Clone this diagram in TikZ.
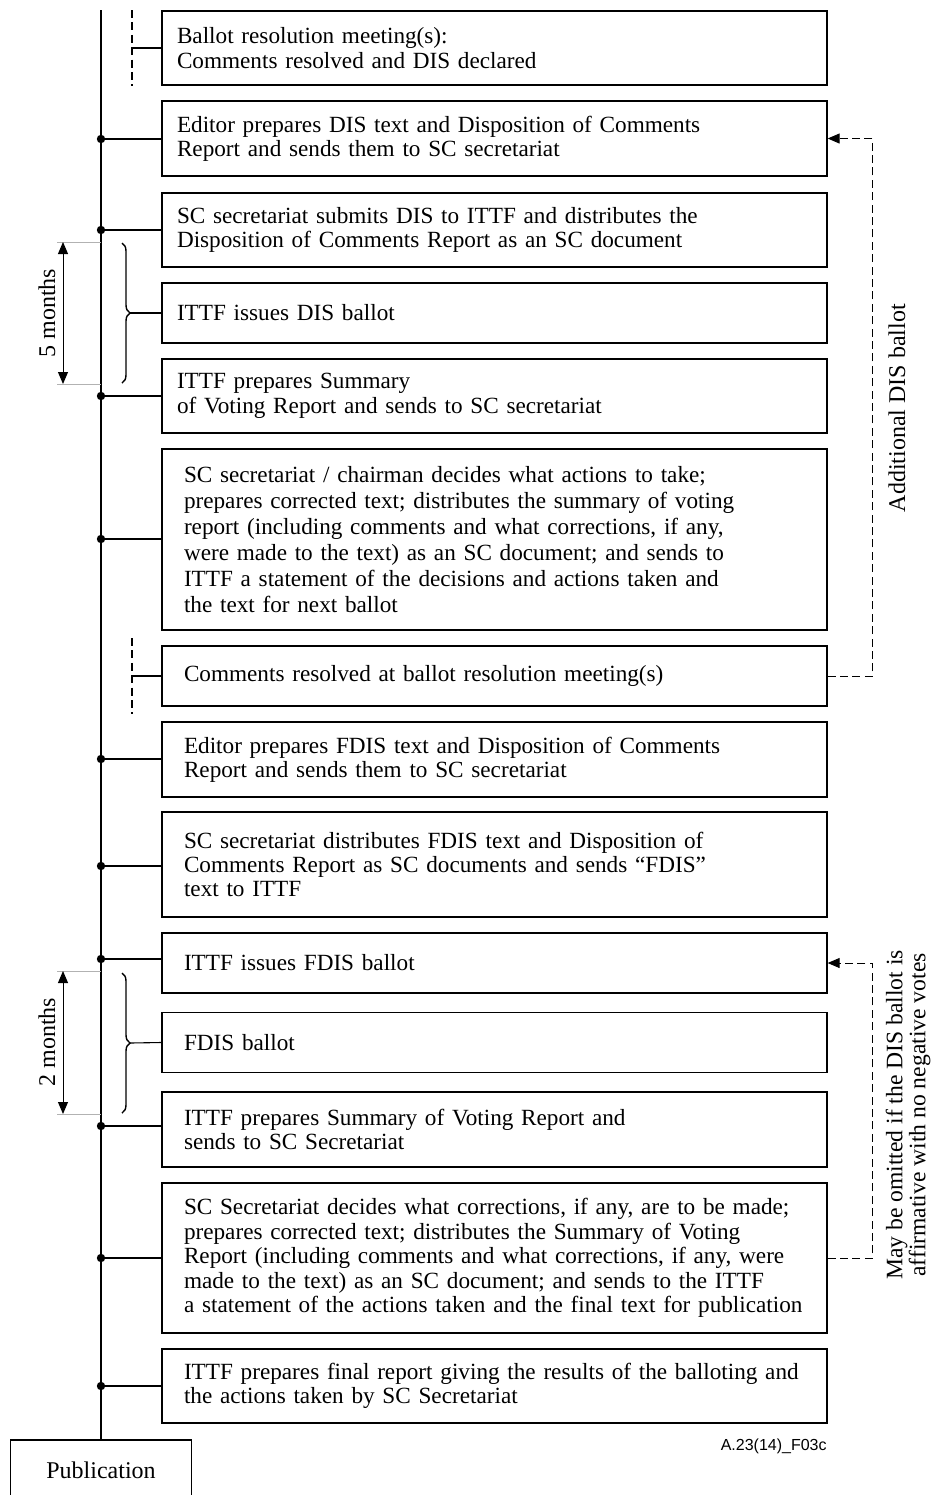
\documentclass[tikz,border=0pt]{standalone}
\usepackage{fontspec}
\setmainfont{Liberation Serif}
\newfontfamily\figfont{Liberation Sans}
\usetikzlibrary{arrows.meta, decorations.pathreplacing, positioning, calc}

\tikzset{
  stepbox/.style={draw, line width=0.65pt, rectangle, minimum width=332.5pt, inner xsep=7.5pt, text width=317.5pt, align=left, font=\fontsize{11.6}{12.2}\selectfont},
  widebox/.style={stepbox, inner xsep=11pt, text width=310.5pt},
  stem/.style={line width=0.55pt},
  joint/.style={circle, fill, inner sep=0pt, minimum size=4.2pt},
  dimline/.style={gray!60, line width=0.45pt},
  feedback/.style={dashed, dash pattern=on 4pt off 2.2pt, line width=0.5pt, -{Triangle[width=5pt,length=6pt]}},
}

\begin{document}
\begin{tikzpicture}[x=0.5pt, y=-0.5pt, font=\fontsize{12}{12.2}\selectfont]
        \useasboundingbox (0,0) rectangle (935,1495);
        % steps
        \node[stepbox, minimum height=37pt] (b1) at (494.5,48) {Ballot resolution meeting(s):\\Comments resolved and DIS declared};
        \node[stepbox, minimum height=37.5pt] (b2) at (494.5,138.5) {Editor prepares DIS text and Disposition of Comments\\Report and sends them to SC secretariat};
        \node[stepbox, minimum height=37pt] (b3) at (494.5,230) {SC secretariat submits DIS to ITTF and distributes the\\Disposition of Comments Report as an SC document};
        \node[stepbox, minimum height=30pt] (b4) at (494.5,313) {ITTF issues DIS ballot};
        \node[stepbox, minimum height=37pt] (b5) at (494.5,396) {ITTF prepares Summary\\of Voting Report and sends to SC secretariat};
        \node[widebox, minimum height=90.5pt, font=\fontsize{11.6}{13}\selectfont] (b6) at (494.5,539.5) {SC secretariat / chairman decides what actions to take;\\prepares corrected text; distributes the summary of voting\\report (including comments and what corrections, if any,\\were made to the text) as an SC document; and sends to\\ITTF a statement of the decisions and actions taken and\\the text for next ballot};
        \node[widebox, minimum height=30pt] (b7) at (494.5,676) {Comments resolved at ballot resolution meeting(s)};
        \node[widebox, minimum height=37.5pt] (b8) at (494.5,759.5) {Editor prepares FDIS text and Disposition of Comments\\Report and sends them to SC secretariat};
        \node[widebox, minimum height=52.5pt] (b9) at (494.5,864.5) {SC secretariat distributes FDIS text and Disposition of\\Comments Report as SC documents and sends ``FDIS''\\text to ITTF};
        \node[widebox, minimum height=30pt] (b10) at (494.5,963) {ITTF issues FDIS ballot};
        \node[widebox, minimum height=30pt] (b11) at (494.5,1042.5) {FDIS ballot};
        \node[widebox, minimum height=37.5pt] (b12) at (494.5,1129.5) {ITTF prepares Summary of Voting Report and\\sends to SC Secretariat};
        \node[widebox, minimum height=75pt] (b13) at (494.5,1258) {SC Secretariat decides what corrections, if any, are to be made;\\prepares corrected text; distributes the Summary of Voting\\Report (including comments and what corrections, if any, were\\made to the text) as an SC document; and sends to the ITTF\\a statement of the actions taken and the final text for publication};
        \node[widebox, minimum height=37pt] (b14) at (494.5,1386) {ITTF prepares final report giving the results of the balloting and\\the actions taken by SC Secretariat};
        \node[draw, line width=0.65pt, minimum width=90.5pt, minimum height=30pt] (pub) at (101,1470) {Publication};
        \node[anchor=east, inner sep=0pt, font=\figfont\fontsize{8}{9.6}\selectfont] (tag) at (827,1446) {A.23(14)\_F03c};

        % time line
        \draw[stem] (101,10) -- (pub.north);
        \foreach \b/\y in {b2/139, b3/230, b5/396, b6/539, b8/759, b9/866, b10/959, b12/1126, b13/1258, b14/1386} {
            \coordinate (t\b) at (101,\y);
            \draw[stem] (t\b) -- (t\b -| \b.west);
            \node[joint] at (t\b) {};
        }

        % meetings
        \draw[stem, dashed, dash pattern=on 4pt off 2.2pt] (132,10) -- (132,86);
        \coordinate (r1) at (132,48);
        \draw[stem] (r1) -- (b1.west);
        \draw[stem, dashed, dash pattern=on 4pt off 2.2pt] (132,638) -- (132,714);
        \coordinate (r7) at (132,676);
        \draw[stem] (r7) -- (b7.west);

        % ballot periods
        \draw[line width=0.7pt, decorate, decoration={brace, amplitude=4pt}] (122,243) -- (122,383);
        \coordinate (k4) at (130,313);
        \draw[stem] (k4) -- (b4.west);
        \draw[line width=0.7pt, decorate, decoration={brace, amplitude=4pt}] (122,973) -- (122,1113);
        \coordinate (k11) at (130,1043);
        \draw[stem] (k11) -- (b11.west);

        \draw[dimline] (57,242) -- (101,242);
        \draw[dimline] (57,384) -- (101,384);
        \draw[line width=0.5pt, {Triangle[width=5pt,length=6pt]}-{Triangle[width=5pt,length=6pt]}] (63,242) -- (63,384);
        \node[rotate=90] (m5) at (47,313) {5 months};
        \draw[dimline] (57,971) -- (101,971);
        \draw[dimline] (57,1114) -- (101,1114);
        \draw[line width=0.5pt, {Triangle[width=5pt,length=6pt]}-{Triangle[width=5pt,length=6pt]}] (63,971) -- (63,1114);
        \node[rotate=90] (m2) at (47,1042) {2 months};

        % loops back
        \draw[feedback] (b7.east) -- ++(45,0) |- (b2.east);
        \node[rotate=90] (fb1) at (897,408) {Additional DIS ballot};
        \draw[feedback] (b13.east) -- ++(45,0) |- (b10.east);
        \node[rotate=90, align=center, font=\fontsize{11.8}{11.5}\selectfont] (fb2) at (908,1115) {May be omitted if the DIS ballot is\\affirmative with no negative votes};
\end{tikzpicture}
\end{document}
